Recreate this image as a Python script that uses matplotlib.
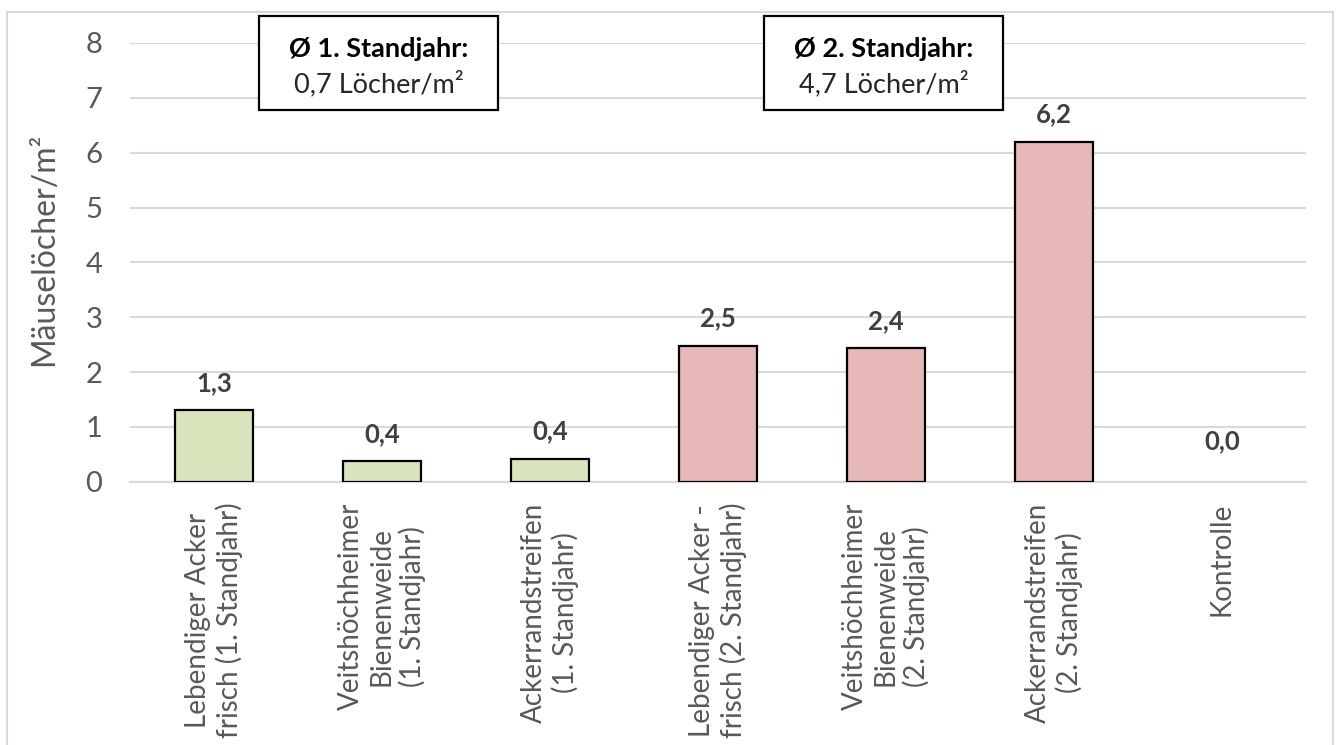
import matplotlib.pyplot as plt
from matplotlib.patches import Rectangle

plt.rcParams["font.family"] = ["Lato", "DejaVu Sans"]

categories = [
    "Lebendiger Acker\nfrisch (1. Standjahr)",
    "Veitshöchheimer\nBienenweide\n(1. Standjahr)",
    "Ackerrandstreifen\n(1. Standjahr)",
    "Lebendiger Acker -\nfrisch (2. Standjahr)",
    "Veitshöchheimer\nBienenweide\n(2. Standjahr)",
    "Ackerrandstreifen\n(2. Standjahr)",
    "Kontrolle",
]
holes = [1.30, 0.37, 0.41, 2.48, 2.43, 6.19, 0.0]
year = [1, 1, 1, 2, 2, 2, 2]

mean_boxes = [("Ø 1. Standjahr:", "0,7 Löcher/m²", 0.98),
              ("Ø 2. Standjahr:", "4,7 Löcher/m²", 3.985)]

year_colors = {1: "#D8E4BC", 2: "#E6B8B7"}
grid_col = "#D9D9D9"
tick_col = "#595959"

fig = plt.figure(figsize=(13.4, 7.45), dpi=100)
ax = fig.add_axes([0.097, 0.3534, 0.8776, 0.5889])

# chart border
fig.patches.append(Rectangle((0.005, -0.01), 0.99, 0.994, transform=fig.transFigure,
                             fill=False, edgecolor=grid_col, linewidth=1.5))

x = range(len(categories))
colors = [year_colors[y] for y in year]
edge_w = [1.6 if v > 0 else 0 for v in holes]
bars = ax.bar(x, holes, width=0.46, color=colors, edgecolor="black", linewidth=edge_w, zorder=3)

for xi, v in zip(x, holes):
    off = 20 if v > 0 else 29
    ax.annotate(f"{v:.1f}".replace(".", ","), (xi, v), xytext=(0, off),
                textcoords="offset points", ha="center", va="center",
                fontsize=18.5, fontweight="bold", color="#404040")

ax.set_xlim(-0.5, len(categories) - 0.5)
ax.set_ylim(0, 8)
ax.set_yticks(range(0, 9))
ax.yaxis.grid(True, color=grid_col, linewidth=1.5, zorder=0)
ax.set_axisbelow(True)
for side in ["top", "right", "left"]:
    ax.spines[side].set_visible(False)
ax.spines["bottom"].set_color(grid_col)
ax.spines["bottom"].set_linewidth(1.5)

ax.set_xticks(list(x))
ax.set_xticklabels(categories, rotation=90, multialignment="center", fontsize=20,
                   color=tick_col, linespacing=1.2)
ax.tick_params(axis="x", length=0, pad=15)
ax.tick_params(axis="y", length=0, pad=20, labelsize=21, labelcolor=tick_col)

ax.set_ylabel("Mäuselöcher/m²", fontsize=23, color=tick_col)
ax.yaxis.set_label_coords(-0.06, 0.53)

# boxes with the mean per year
for head, body, cx in mean_boxes:
    ax.add_patch(Rectangle((cx - 0.71, 6.78), 1.42, 1.72, fill=True, facecolor="white",
                           edgecolor="black", linewidth=1.6, clip_on=False, zorder=5))
    ax.text(cx, 7.89, head, ha="center", va="center", fontsize=19.5, fontweight="bold",
            color="black", zorder=6, clip_on=False)
    ax.text(cx, 7.26, body, ha="center", va="center", fontsize=19.5,
            color="#262626", zorder=6, clip_on=False)

plt.savefig("out.png", dpi=100)
plt.close()
